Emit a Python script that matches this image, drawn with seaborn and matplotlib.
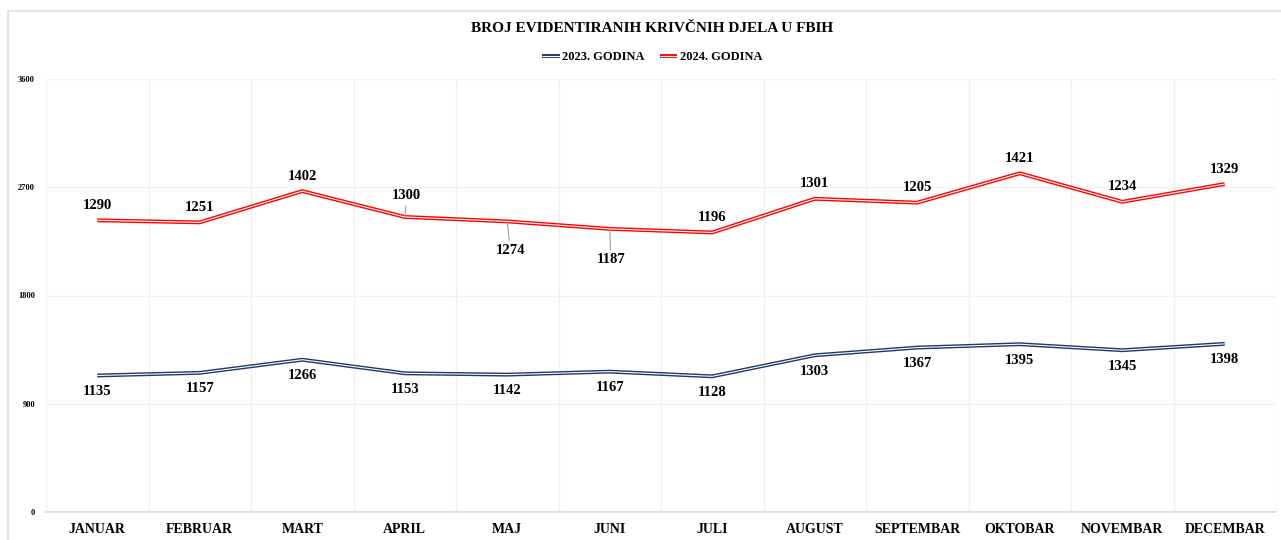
import numpy as np
import pandas as pd
import matplotlib
matplotlib.use("Agg")
import matplotlib.pyplot as plt
import matplotlib.patheffects as pe
from matplotlib.lines import Line2D
from matplotlib.patches import Rectangle
import seaborn as sns

# Data (stacked line chart)
mjeseci = ["JANUAR", "FEBRUAR", "MART", "APRIL", "MAJ", "JUNI", "JULI",
           "AUGUST", "SEPTEMBAR", "OKTOBAR", "NOVEMBAR", "DECEMBAR"]
god_2023 = [1135, 1157, 1266, 1153, 1142, 1167, 1128, 1303, 1367, 1395, 1345, 1398]
god_2024 = [1290, 1251, 1402, 1300, 1274, 1187, 1196, 1301, 1205, 1421, 1234, 1329]
serije = ["2023. GODINA", "2024. GODINA"]
y_ticks = [0, 900, 1800, 2700, 3600]

NAVY = "#1f3864"
RED = "#ff0000"
FONT = ["Liberation Serif", "DejaVu Serif"]

# label offsets in pixels (x, y) for the 2024 series; some are moved with leader lines
red_offsets = [(0, 15), (0, 15), (0, 15), (2, 21), (3, -29), (1, -31),
               (0, 15), (0, 15), (0, 15), (0, 15), (0, 15), (0, 15)]

# long-form table, 2024 stacked on top of 2023 like the Excel chart
idx = np.arange(len(mjeseci))
df = pd.DataFrame({
    "x": np.concatenate([idx, idx]),
    "vrijednost": god_2023 + god_2024,
    "kumulativ": list(god_2023) + list(np.add(god_2023, god_2024)),
    "serija": [serije[0]] * len(idx) + [serije[1]] * len(idx),
})

sns.set_style("white")
plt.rcParams["font.family"] = FONT
plt.rcParams["font.weight"] = "bold"
plt.rcParams["text.color"] = "black"
plt.rcParams["xtick.color"] = "black"
plt.rcParams["ytick.color"] = "black"

fig = plt.figure(figsize=(12.81, 5.40), dpi=100)
fig.patches.append(Rectangle((8 / 1281, -0.01), 1.02, 1 - 11 / 540 + 0.01,
                             transform=fig.transFigure, fill=False,
                             edgecolor="#d6e0ec", lw=1.2))
ax = fig.add_axes([46 / 1281, 28 / 540, 1230 / 1281, 433 / 540])

palette = {serije[0]: NAVY, serije[1]: RED}
for ser, col in palette.items():
    sub = df[df["serija"] == ser]
    sns.lineplot(data=sub, x="x", y="kumulativ", ax=ax, color="white", lw=0.8,
                 legend=False, sort=False, solid_capstyle="butt",
                 path_effects=[pe.Stroke(linewidth=2.8, foreground=col), pe.Normal()])

# data labels
sub23 = df[df["serija"] == serije[0]]
for x, y, v in zip(sub23["x"], sub23["kumulativ"], sub23["vrijednost"]):
    ax.annotate(f"{v}", (x, y), xytext=(0, -16), textcoords="offset pixels",
                ha="center", va="center", fontsize=10.5, fontweight="bold")
sub24 = df[df["serija"] == serije[1]]
for (x, y, v), (dx, dy) in zip(zip(sub24["x"], sub24["kumulativ"], sub24["vrijednost"]), red_offsets):
    arrow = None
    if abs(dy) > 16:
        arrow = dict(arrowstyle="-", color="#a0a0a0", lw=0.8, shrinkA=0, shrinkB=0)
    ax.annotate(f"{v}", (x, y), xytext=(dx, dy), textcoords="offset pixels",
                ha="center", va="center", fontsize=10.5, fontweight="bold",
                arrowprops=arrow)

ax.set_xlim(-0.5, len(mjeseci) - 0.5)
ax.set_ylim(0, 3600)
ax.set_yticks(y_ticks)
ax.set_yticklabels([str(t) for t in y_ticks], fontsize=6, fontweight="bold")
ax.set_xticks(idx)
ax.set_xticklabels(mjeseci, fontsize=10, fontweight="bold")
ax.set_xticks(np.arange(-0.5, len(mjeseci)), minor=True)
ax.tick_params(axis="both", which="both", length=0)
ax.tick_params(axis="x", pad=8)
ax.tick_params(axis="y", pad=8)
ax.grid(axis="y", which="major", color="#f0f0f0", lw=1)
ax.grid(axis="x", which="minor", color="#f0f0f0", lw=1)
ax.grid(axis="x", which="major", visible=False)
ax.set_xlabel("")
ax.set_ylabel("")
for s in ["top", "right", "left"]:
    ax.spines[s].set_visible(False)
ax.spines["bottom"].set_color("#d9d9d9")
ax.spines["bottom"].set_linewidth(1.2)

fig.text(652 / 1281, 1 - 29 / 540, "BROJ EVIDENTIRANIH KRIVČNIH DJELA U FBIH",
         ha="center", va="center", fontsize=11, fontweight="bold")

handles = [Line2D([], [], color="white", lw=0.8, solid_capstyle="butt",
                  path_effects=[pe.Stroke(linewidth=2.8, foreground=c), pe.Normal()])
           for c in palette.values()]
fig.legend(handles, serije, loc="center", bbox_to_anchor=(652 / 1281, 1 - 57 / 540),
           ncol=2, frameon=False, handlelength=1.4, handletextpad=0.2,
           columnspacing=1.2, prop={"weight": "bold", "size": 9})

fig.savefig("out.png", dpi=100)
